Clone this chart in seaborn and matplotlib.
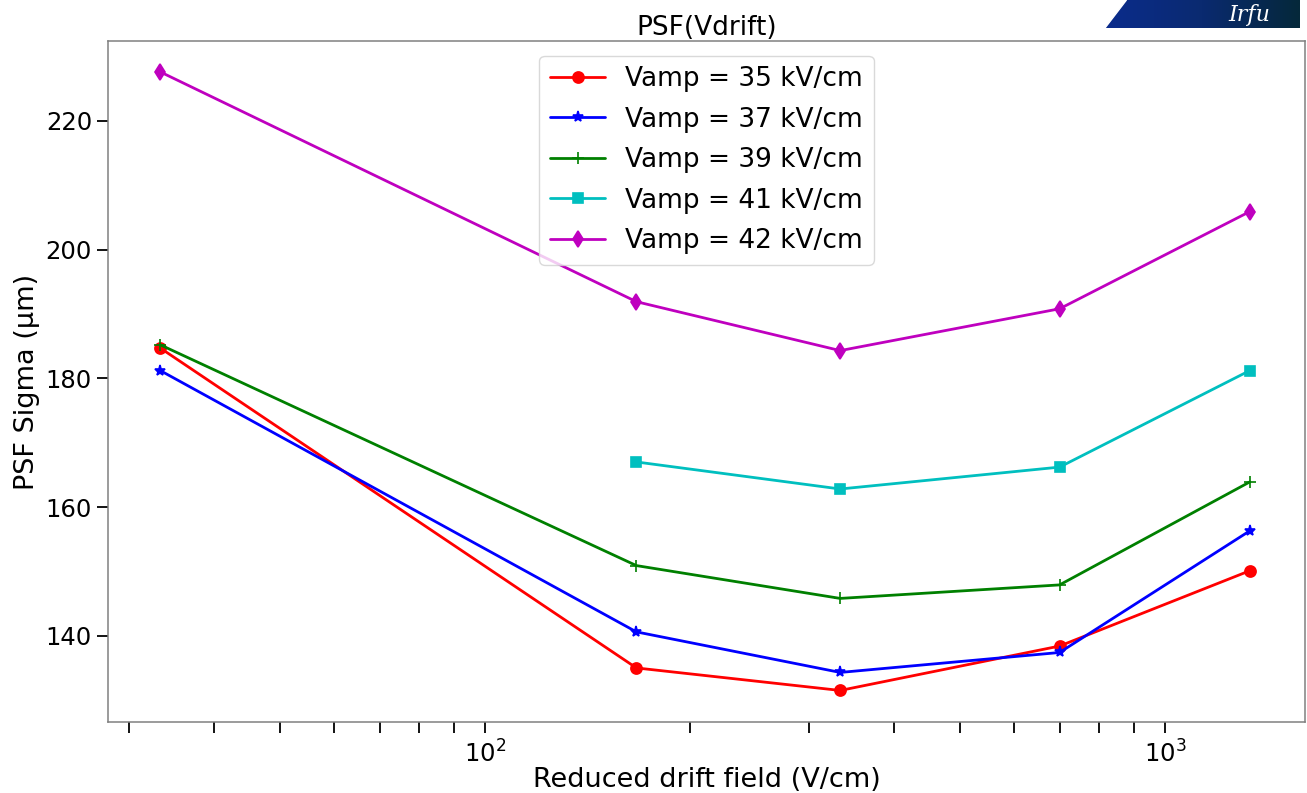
import numpy as np
import pandas as pd
import matplotlib
matplotlib.use("Agg")
import matplotlib.pyplot as plt
import seaborn as sns

# Reduced drift field (V/cm)
drift_field = [33.3, 167.0, 333.0, 700.0, 1333.0]

# PSF sigma (um) for each amplification field
sigma_35 = [184.7, 135.0, 131.5, 138.4, 150.1]
sigma_37 = [181.2, 140.6, 134.3, 137.4, 156.3]
sigma_39 = [185.2, 150.9, 145.8, 147.9, 163.9]
sigma_41 = [np.nan, 167.0, 162.8, 166.2, 181.2]
sigma_42 = [227.6, 191.9, 184.3, 190.8, 205.9]

series_labels = ["Vamp = 35 kV/cm", "Vamp = 37 kV/cm", "Vamp = 39 kV/cm",
                 "Vamp = 41 kV/cm", "Vamp = 42 kV/cm"]
series_values = [sigma_35, sigma_37, sigma_39, sigma_41, sigma_42]
series_colors = ["#ff0000", "#0000ff", "#008000", "#00bfbf", "#bf00bf"]
series_markers = ["o", "*", "+", "s", "d"]
series_msize = [8, 8, 8, 7.5, 8.5]

sns.set_theme(style="white")
plt.rcParams["font.family"] = ["DejaVu Sans"]
plt.rcParams["text.color"] = "black"
plt.rcParams["axes.labelcolor"] = "black"

fig = plt.figure(figsize=(13.07, 7.93), dpi=100)
ax = fig.add_axes([108 / 1307, 1 - 722 / 793, (1305 - 108) / 1307, (722 - 41) / 793])

for label, vals, col, mk, ms in zip(series_labels, series_values, series_colors,
                                    series_markers, series_msize):
    df = pd.DataFrame({"x": drift_field, "y": vals}).dropna()
    sns.lineplot(data=df, x="x", y="y", ax=ax, color=col, marker=mk,
                 markersize=ms, linewidth=2, markeredgecolor=col,
                 markeredgewidth=1.2, label=label)

ax.set_xscale("log")
ax.set_xlim(27.9, 1607)
ax.set_ylim(126.6, 232.4)
ax.set_yticks([140, 160, 180, 200, 220])

ax.tick_params(axis="both", which="both", direction="out", length=8, width=1.3,
               colors="black", labelsize=17.5, bottom=True, left=True)
ax.tick_params(axis="x", which="major", pad=5)
for s in ax.spines.values():
    s.set_color("#808080")
    s.set_linewidth(1.1)

ax.set_xlabel("Reduced drift field (V/cm)", fontsize=19.5, labelpad=0)
ax.set_ylabel("PSF Sigma (µm)", fontsize=19.5, labelpad=4)
ax.set_title("PSF(Vdrift)", fontsize=19, pad=3)

leg = ax.legend(loc="upper center", fontsize=19, frameon=True, handlelength=2.1,
                handletextpad=0.75, borderaxespad=0.55, labelspacing=0.55)
leg.get_frame().set_edgecolor("#d0d0d0")

# Laboratory logo strip in the top-right corner
logo = fig.add_axes([1105 / 1307, 1 - 28 / 793, 195 / 1307, 28 / 793])
grad = np.linspace(0, 1, 256).reshape(1, -1)
cmap = matplotlib.colors.LinearSegmentedColormap.from_list(
    "logo", ["#0b2c8c", "#0a2a70", "#05283a"])
logo.imshow(grad, aspect="auto", cmap=cmap, extent=[0, 1, 0, 1])
logo.fill([0, 0.11, 0.0], [0, 1, 1], color="white")
logo.text(0.63, 0.45, "Irfu", color="white", fontsize=16, style="italic",
          fontfamily="DejaVu Serif", ha="left", va="center")
logo.set_xlim(0, 1)
logo.set_ylim(0, 1)
logo.axis("off")

fig.savefig("out.png", dpi=100)
